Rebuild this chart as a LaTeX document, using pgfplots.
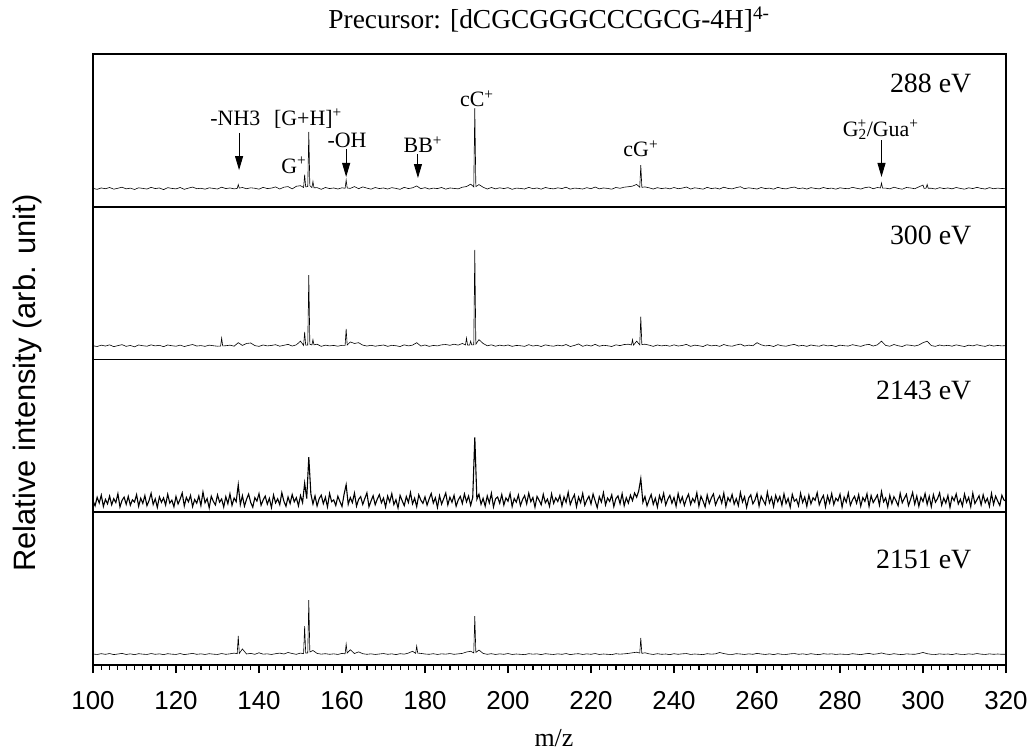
\documentclass[border=0pt]{standalone}
\usepackage{pgfplots}
\pgfplotsset{compat=1.18}
\usepackage{fontspec}
\setmainfont{Liberation Serif}
\newfontfamily\arial{Liberation Sans}
\usetikzlibrary{arrows.meta}
\newcommand{\fs}[1]{\fontsize{#1}{#1}\selectfont}
\begin{document}
\begin{tikzpicture}
\pgfplotsset{panel/.style={scale only axis, width=913bp, height=152.75bp,
  xmin=100, xmax=320, ymin=0, ymax=100, xtick=\empty, ytick=\empty,
  axis line style={line width=1.9bp}, anchor=south west},
  spec/.style={black, line width=0.6bp, mark=none}}
\tikzset{elab/.style={anchor=base east, font=\fs{28}},
  ann/.style={anchor=base, font=\fs{22}, inner sep=0pt},
  arr/.style={line width=0.9bp, -{Triangle[length=14bp,width=8bp]}}}
\path[use as bounding box] (-93bp,-91bp) rectangle (938bp,665bp);
% ---------------- panel 1 : 288 eV
\begin{axis}[panel, at={(0,458.25bp)}]
\addplot[spec] table[row sep=\\]{x y\\
100 12.0\\ 101 11.4\\ 102 12.3\\ 103 11.8\\ 104 12.6\\ 105 11.5\\ 106 12.1\\ 107 12.8\\ 108 11.7\\ 109 12.2\\
110 11.3\\ 111 12.4\\ 112 12.0\\ 113 11.6\\ 114 12.7\\ 115 11.9\\ 116 12.3\\ 117 11.2\\ 118 12.5\\ 119 12.0\\
120 11.7\\ 121 12.6\\ 122 11.4\\ 123 12.2\\ 124 12.9\\ 125 11.8\\ 126 12.1\\ 127 11.5\\ 128 12.4\\ 129 12.0\\
130 11.6\\ 131 12.8\\ 132 11.9\\ 133 12.3\\ 134 11.7\\ 134.75 12.0\\ 135 14.5\\ 135.25 12.2\\ 136 12.6\\ 137 11.8\\ 138 12.4\\ 139 12.1\\
140 11.5\\ 141 12.7\\ 142 11.9\\ 143 12.2\\ 144 13.0\\ 145 11.6\\ 146 12.8\\ 147 13.2\\ 148 11.7\\ 149 13.4\\
150 13.8\\ 150.75 12.6\\ 151 21.0\\ 151.25 13.0\\ 151.75 13.2\\ 152 49.0\\ 152.25 13.8\\ 152.75 12.6\\ 153 16.5\\ 153.25 12.4\\
154 12.5\\ 155 11.4\\ 156 12.6\\ 157 11.9\\ 158 12.3\\ 159 11.6\\
160 12.4\\ 160.75 12.1\\ 161 17.5\\ 161.25 12.3\\ 162 12.0\\ 163 13.2\\ 164 11.8\\ 165 13.0\\ 166 12.2\\ 167 11.5\\ 168 12.6\\ 169 11.9\\
170 12.3\\ 171 11.6\\ 172 12.5\\ 173 12.0\\ 174 11.4\\ 175 12.7\\ 176 11.9\\ 177 12.4\\ 178 13.6\\ 179 11.8\\
180 12.5\\ 181 11.6\\ 182 12.2\\ 183 11.9\\ 184 12.6\\ 185 11.5\\ 186 12.3\\ 187 12.0\\ 188 11.7\\ 189 12.8\\
190 13.2\\ 191 14.8\\ 191.75 13.0\\ 192 64.5\\ 192.25 13.2\\ 193 14.5\\ 194 12.8\\ 195 11.6\\ 196 12.6\\ 197 11.7\\ 198 12.4\\ 199 11.9\\
200 12.5\\ 201 11.4\\ 202 12.2\\ 203 12.0\\ 204 11.6\\ 205 12.7\\ 206 11.8\\ 207 12.3\\ 208 11.5\\ 209 12.6\\
210 12.0\\ 211 11.7\\ 212 12.4\\ 213 11.9\\ 214 12.8\\ 215 11.5\\ 216 12.2\\ 217 12.0\\ 218 11.6\\ 219 12.5\\
220 11.8\\ 221 12.9\\ 222 11.7\\ 223 12.3\\ 224 12.0\\ 225 11.5\\ 226 12.6\\ 227 12.1\\ 228 12.8\\ 229 13.1\\
230 13.5\\ 231 14.6\\ 231.75 12.8\\ 232 27.3\\ 232.25 12.7\\ 233 13.0\\ 234 12.4\\ 235 11.6\\ 236 12.5\\ 237 11.9\\ 238 12.3\\ 239 11.7\\
240 12.6\\ 241 11.8\\ 242 12.2\\ 243 12.9\\ 244 11.6\\ 245 12.4\\ 246 12.0\\ 247 11.5\\ 248 12.7\\ 249 11.9\\
250 12.3\\ 251 11.6\\ 252 12.8\\ 253 12.0\\ 254 11.7\\ 255 12.5\\ 256 13.1\\ 257 11.8\\ 258 12.4\\ 259 12.0\\
260 11.6\\ 261 12.6\\ 262 11.9\\ 263 12.2\\ 264 11.5\\ 265 12.7\\ 266 12.0\\ 267 11.7\\ 268 12.4\\ 269 12.9\\
270 11.8\\ 271 12.3\\ 272 11.6\\ 273 12.5\\ 274 12.0\\ 275 11.7\\ 276 12.6\\ 277 11.9\\ 278 12.2\\ 279 11.5\\
280 12.4\\ 281 12.0\\ 282 11.8\\ 283 12.7\\ 284 12.1\\ 285 11.6\\ 286 12.5\\ 287 12.9\\ 288 11.8\\ 289 12.6\\
289.75 12.3\\ 290 15.5\\ 290.25 12.2\\ 291 12.2\\ 292 11.7\\ 293 12.8\\ 294 12.0\\ 295 11.5\\ 296 12.6\\ 297 12.3\\ 298 11.8\\ 299 13.0\\
300 14.2\\ 300.25 12.0\\ 300.75 12.2\\ 301 14.6\\ 301.25 12.1\\ 302 12.1\\ 303 11.6\\ 304 12.5\\ 305 11.9\\ 306 12.3\\ 307 11.7\\ 308 12.6\\ 309 12.0\\
310 11.5\\ 311 12.4\\ 312 11.9\\ 313 12.7\\ 314 12.0\\ 315 11.6\\ 316 12.5\\ 317 11.8\\ 318 12.2\\ 319 11.9\\ 320 12.1\\
};
\node[elab] at (axis cs:312.5,74.5) {288 eV};
\node[ann] at (axis cs:134.3,53.5) {-NH3};
\draw[arr] (axis cs:135.2,48.3) -- (axis cs:135.2,24);
\node[ann] at (axis cs:151.8,53.5) {[G+H]\textsuperscript{+}};
\node[ann] at (axis cs:148.4,22) {G\textsuperscript{+}};
\node[ann] at (axis cs:161.2,39.1) {-OH};
\draw[arr] (axis cs:161.0,37.5) -- (axis cs:161.0,19.5);
\node[ann] at (axis cs:179.5,35.2) {BB\textsuperscript{+}};
\draw[arr] (axis cs:178.3,34.5) -- (axis cs:178.3,18.8);
\node[ann] at (axis cs:192.5,65.3) {cC\textsuperscript{+}};
\node[ann] at (axis cs:232.0,32.6) {cG\textsuperscript{+}};
\node[ann] at (axis cs:289.8,46.3) {G\textsubscript{2}\hspace{-0.42em}\textsuperscript{+}/Gua\textsuperscript{+}};
\draw[arr] (axis cs:290,43.5) -- (axis cs:290,19.5);
\end{axis}
% ---------------- panel 2 : 300 eV
\begin{axis}[panel, at={(0,305.5bp)}]
\addplot[spec] table[row sep=\\]{x y\\
100 9.0\\ 101 8.5\\ 102 9.4\\ 103 8.8\\ 104 9.6\\ 105 8.4\\ 106 9.1\\ 107 9.7\\ 108 8.6\\ 109 9.2\\
110 8.3\\ 111 9.5\\ 112 9.0\\ 113 8.7\\ 114 9.6\\ 115 8.9\\ 116 9.3\\ 117 8.4\\ 118 9.5\\ 119 9.0\\
120 8.7\\ 121 9.4\\ 122 8.5\\ 123 9.2\\ 124 9.8\\ 125 8.8\\ 126 9.1\\ 127 8.6\\ 128 9.4\\ 129 9.0\\
130 8.7\\ 130.75 8.8\\ 131 14.0\\ 131.25 8.9\\ 132 9.0\\ 133 9.4\\ 134 8.7\\ 135 11.0\\ 136 9.2\\ 137 10.5\\ 138 10.8\\ 139 9.1\\
140 8.6\\ 141 9.5\\ 142 8.9\\ 143 9.2\\ 144 9.7\\ 145 8.7\\ 146 9.3\\ 147 9.9\\ 148 8.8\\ 149 9.6\\
150 12.0\\ 150.75 9.2\\ 151 18.0\\ 151.25 9.4\\ 151.75 9.5\\ 152 55.3\\ 152.25 10.0\\ 152.75 9.5\\ 153 13.0\\ 153.25 9.6\\
154 10.0\\ 155 8.6\\ 156 9.4\\ 157 8.9\\ 158 9.2\\ 159 8.7\\
160 9.3\\ 160.75 9.2\\ 161 20.0\\ 161.25 9.5\\ 162 11.5\\ 163 10.5\\ 164 11.0\\ 165 9.4\\ 166 8.8\\ 167 9.3\\ 168 8.7\\ 169 9.1\\
170 9.5\\ 171 8.6\\ 172 9.3\\ 173 9.0\\ 174 8.5\\ 175 9.6\\ 176 8.9\\ 177 9.4\\ 178 11.0\\ 179 8.8\\
180 9.5\\ 181 8.6\\ 182 9.2\\ 183 8.9\\ 184 9.6\\ 185 9.8\\ 186 9.3\\ 187 10.0\\ 188 9.4\\ 189 10.5\\
189.75 9.5\\ 190 14.0\\ 190.25 9.5\\ 190.75 9.4\\ 191 12.0\\ 191.25 9.6\\ 191.75 9.6\\ 192 71.7\\ 192.25 10.0\\ 193 13.0\\
194 10.5\\ 195 9.0\\ 196 9.6\\ 197 8.7\\ 198 9.4\\ 199 8.9\\
200 9.5\\ 201 8.6\\ 202 9.2\\ 203 9.0\\ 204 8.6\\ 205 9.7\\ 206 8.8\\ 207 9.3\\ 208 8.5\\ 209 9.6\\
210 9.0\\ 211 8.7\\ 212 9.4\\ 213 8.9\\ 214 9.8\\ 215 8.5\\ 216 9.2\\ 217 10.2\\ 218 8.6\\ 219 9.5\\
220 8.8\\ 221 9.9\\ 222 8.7\\ 223 9.3\\ 224 9.0\\ 225 8.5\\ 226 9.6\\ 227 9.1\\ 228 9.8\\ 229 10.0\\
229.75 9.5\\ 230 13.0\\ 230.25 9.4\\ 231 12.0\\ 231.75 9.6\\ 232 28.0\\ 232.25 9.8\\ 233 10.0\\ 234 9.4\\ 235 8.6\\ 236 9.5\\ 237 8.9\\ 238 9.3\\ 239 8.7\\
240 9.6\\ 241 8.8\\ 242 9.2\\ 243 9.9\\ 244 8.6\\ 245 9.4\\ 246 9.0\\ 247 8.5\\ 248 9.7\\ 249 8.9\\
250 9.3\\ 251 8.6\\ 252 9.8\\ 253 9.0\\ 254 8.7\\ 255 9.5\\ 256 10.1\\ 257 8.8\\ 258 9.4\\ 259 9.0\\
260 11.0\\ 261 9.6\\ 262 8.9\\ 263 9.2\\ 264 8.5\\ 265 9.7\\ 266 9.0\\ 267 8.7\\ 268 9.4\\ 269 9.9\\
270 8.8\\ 271 9.3\\ 272 8.6\\ 273 9.5\\ 274 9.0\\ 275 8.7\\ 276 9.6\\ 277 8.9\\ 278 9.2\\ 279 8.5\\
280 9.4\\ 281 9.0\\ 282 8.8\\ 283 9.7\\ 284 9.1\\ 285 8.6\\ 286 9.5\\ 287 9.9\\ 288 8.8\\ 289 9.6\\
290 12.0\\ 291 9.2\\ 292 8.7\\ 293 9.8\\ 294 9.0\\ 295 8.5\\ 296 9.6\\ 297 9.3\\ 298 8.8\\ 299 9.5\\
300 11.0\\ 301 12.0\\ 302 9.1\\ 303 8.6\\ 304 9.5\\ 305 8.9\\ 306 9.3\\ 307 8.7\\ 308 9.6\\ 309 9.0\\
310 8.5\\ 311 9.4\\ 312 8.9\\ 313 9.7\\ 314 9.0\\ 315 8.6\\ 316 9.5\\ 317 8.8\\ 318 9.2\\ 319 8.9\\ 320 9.1\\
};
\node[elab] at (axis cs:312.5,75) {300 eV};
\end{axis}
% ---------------- panel 3 : 2143 eV
\begin{axis}[panel, at={(0,152.75bp)}]
\addplot[spec, line width=1.1bp] table[row sep=\\]{x y\\
100 7.5\\ 100.5 4.2\\ 101 9.8\\ 101.5 6.1\\ 102 11.2\\ 102.5 3.8\\ 103 8.4\\ 103.5 5.5\\ 104 10.6\\ 104.5 4.9\\
105 8.9\\ 105.5 6.3\\ 106 12.1\\ 106.5 3.5\\ 107 7.8\\ 107.5 9.9\\ 108 5.2\\ 108.5 10.4\\ 109 4.6\\ 109.5 8.1\\
110 6.7\\ 110.5 11.5\\ 111 3.9\\ 111.5 9.2\\ 112 5.8\\ 112.5 10.9\\ 113 4.3\\ 113.5 7.6\\ 114 12.4\\ 114.5 5.1\\
115 8.8\\ 115.5 3.2\\ 116 10.1\\ 116.5 6.5\\ 117 9.4\\ 117.5 4.7\\ 118 11.8\\ 118.5 6.0\\ 119 7.9\\ 119.5 3.6\\
120 10.3\\ 120.5 5.4\\ 121 8.6\\ 121.5 12.6\\ 122 4.1\\ 122.5 9.7\\ 123 6.8\\ 123.5 11.0\\ 124 3.7\\ 124.5 8.3\\
125 5.9\\ 125.5 10.7\\ 126 4.4\\ 126.5 13.2\\ 127 6.2\\ 127.5 9.0\\ 128 2.9\\ 128.5 10.5\\ 129 7.1\\ 129.5 4.8\\
130 11.4\\ 130.5 6.6\\ 131 8.7\\ 131.5 3.4\\ 132 10.2\\ 132.5 5.6\\ 133 12.0\\ 133.5 4.5\\ 134 9.3\\ 134.5 6.9\\
135 18.0\\ 135.5 5.0\\ 136 10.8\\ 136.5 4.0\\ 137 8.5\\ 137.5 11.9\\ 138 6.4\\ 138.5 3.3\\ 139 9.6\\ 139.5 7.3\\
140 12.2\\ 140.5 4.6\\ 141 8.0\\ 141.5 10.6\\ 142 5.3\\ 142.5 9.1\\ 143 3.1\\ 143.5 11.3\\ 144 6.1\\ 144.5 8.8\\
145 4.9\\ 145.5 12.8\\ 146 7.2\\ 146.5 3.9\\ 147 10.0\\ 147.5 5.7\\ 148 11.6\\ 148.5 6.8\\ 149 9.5\\ 149.5 4.2\\
150 10.9\\ 150.5 6.3\\ 151 19.0\\ 151.5 9.0\\ 152 36.0\\ 152.5 12.0\\ 153 5.4\\ 153.5 10.7\\ 154 4.1\\ 154.5 8.9\\
155 11.2\\ 155.5 5.6\\ 156 9.8\\ 156.5 3.5\\ 157 12.3\\ 157.5 6.9\\ 158 8.1\\ 158.5 4.4\\ 159 10.5\\ 159.5 7.0\\
160 3.8\\ 160.5 11.7\\ 161 18.0\\ 161.5 5.2\\ 162 9.6\\ 162.5 6.3\\ 163 12.5\\ 163.5 4.0\\ 164 8.4\\ 164.5 10.2\\
165 5.1\\ 165.5 9.0\\ 166 12.7\\ 166.5 3.6\\ 167 7.4\\ 167.5 10.8\\ 168 4.9\\ 168.5 8.6\\ 169 11.5\\ 169.5 6.2\\
170 9.3\\ 170.5 3.4\\ 171 10.6\\ 171.5 6.7\\ 172 12.1\\ 172.5 5.0\\ 173 8.2\\ 173.5 2.8\\ 174 11.0\\ 174.5 7.5\\
175 4.3\\ 175.5 10.3\\ 176 6.4\\ 176.5 12.9\\ 177 5.5\\ 177.5 9.2\\ 178 3.7\\ 178.5 11.4\\ 179 7.9\\ 179.5 5.8\\
180 10.1\\ 180.5 4.6\\ 181 8.7\\ 181.5 12.3\\ 182 6.0\\ 182.5 9.5\\ 183 3.2\\ 183.5 10.8\\ 184 5.3\\ 184.5 8.9\\
185 12.6\\ 185.5 4.8\\ 186 9.9\\ 186.5 6.5\\ 187 11.1\\ 187.5 3.9\\ 188 8.0\\ 188.5 10.4\\ 189 5.7\\ 189.5 12.0\\
190 6.8\\ 190.5 10.6\\ 191 4.5\\ 191.5 9.7\\ 192 49.0\\ 192.5 8.5\\ 193 11.8\\ 193.5 5.2\\ 194 9.1\\ 194.5 4.0\\
195 10.7\\ 195.5 6.1\\ 196 12.4\\ 196.5 3.5\\ 197 8.8\\ 197.5 10.0\\ 198 5.9\\ 198.5 11.6\\ 199 4.7\\ 199.5 9.4\\
200 7.2\\ 200.5 12.2\\ 201 3.8\\ 201.5 9.0\\ 202 6.6\\ 202.5 11.3\\ 203 4.4\\ 203.5 8.3\\ 204 10.9\\ 204.5 5.5\\
205 12.5\\ 205.5 6.9\\ 206 9.6\\ 206.5 3.3\\ 207 10.4\\ 207.5 7.8\\ 208 4.9\\ 208.5 11.7\\ 209 6.2\\ 209.5 8.6\\
210 3.9\\ 210.5 12.0\\ 211 5.8\\ 211.5 9.4\\ 212 7.0\\ 212.5 11.0\\ 213 4.1\\ 213.5 10.1\\ 214 6.5\\ 214.5 13.0\\
215 5.0\\ 215.5 8.7\\ 216 11.5\\ 216.5 3.6\\ 217 9.9\\ 217.5 6.3\\ 218 12.3\\ 218.5 4.6\\ 219 8.0\\ 219.5 10.5\\
220 5.4\\ 220.5 11.9\\ 221 7.4\\ 221.5 3.0\\ 222 10.2\\ 222.5 6.7\\ 223 12.8\\ 223.5 4.8\\ 224 9.3\\ 224.5 7.1\\
225 11.4\\ 225.5 3.7\\ 226 8.9\\ 226.5 10.7\\ 227 5.6\\ 227.5 12.1\\ 228 4.3\\ 228.5 9.5\\ 229 6.0\\ 229.5 11.2\\
230 7.6\\ 230.5 12.6\\ 231 9.8\\ 231.5 14.0\\ 232 22.0\\ 232.5 6.5\\ 233 10.3\\ 233.5 4.2\\ 234 8.1\\ 234.5 11.6\\
235 5.2\\ 235.5 9.2\\ 236 3.4\\ 236.5 10.9\\ 237 6.8\\ 237.5 12.4\\ 238 4.7\\ 238.5 8.5\\ 239 11.1\\ 239.5 5.9\\
240 9.7\\ 240.5 3.9\\ 241 12.2\\ 241.5 6.3\\ 242 10.0\\ 242.5 4.5\\ 243 8.8\\ 243.5 11.8\\ 244 5.1\\ 244.5 9.0\\
245 6.6\\ 245.5 12.7\\ 246 4.0\\ 246.5 10.5\\ 247 7.3\\ 247.5 3.5\\ 248 11.3\\ 248.5 5.7\\ 249 9.4\\ 249.5 12.0\\
250 4.8\\ 250.5 8.2\\ 251 10.8\\ 251.5 6.0\\ 252 12.5\\ 252.5 3.8\\ 253 9.6\\ 253.5 7.0\\ 254 11.6\\ 254.5 5.3\\
255 8.9\\ 255.5 4.4\\ 256 12.9\\ 256.5 6.7\\ 257 10.1\\ 257.5 3.2\\ 258 9.3\\ 258.5 11.4\\ 259 5.5\\ 259.5 8.0\\
260 12.3\\ 260.5 4.1\\ 261 10.6\\ 261.5 7.7\\ 262 5.0\\ 262.5 13.1\\ 263 6.2\\ 263.5 9.8\\ 264 3.7\\ 264.5 11.0\\
265 6.9\\ 265.5 10.3\\ 266 4.6\\ 266.5 12.0\\ 267 5.8\\ 267.5 9.1\\ 268 3.3\\ 268.5 11.7\\ 269 7.2\\ 269.5 8.6\\
270 4.2\\ 270.5 12.4\\ 271 6.4\\ 271.5 10.0\\ 272 3.9\\ 272.5 11.2\\ 273 5.5\\ 273.5 9.5\\ 274 7.8\\ 274.5 12.8\\
275 4.9\\ 275.5 8.4\\ 276 11.0\\ 276.5 3.6\\ 277 10.7\\ 277.5 6.1\\ 278 12.2\\ 278.5 5.0\\ 279 9.2\\ 279.5 7.4\\
280 11.8\\ 280.5 3.4\\ 281 9.9\\ 281.5 6.6\\ 282 12.6\\ 282.5 4.5\\ 283 8.1\\ 283.5 10.4\\ 284 5.9\\ 284.5 11.5\\
285 4.0\\ 285.5 9.6\\ 286 7.1\\ 286.5 12.1\\ 287 3.8\\ 287.5 10.9\\ 288 6.3\\ 288.5 8.7\\ 289 11.3\\ 289.5 4.7\\
290 13.5\\ 290.5 6.8\\ 291 9.4\\ 291.5 3.5\\ 292 11.1\\ 292.5 5.6\\ 293 10.2\\ 293.5 7.5\\ 294 4.3\\ 294.5 12.4\\
295 6.2\\ 295.5 9.0\\ 296 11.7\\ 296.5 4.4\\ 297 8.3\\ 297.5 12.9\\ 298 5.3\\ 298.5 10.6\\ 299 3.9\\ 299.5 9.8\\
300 7.0\\ 300.5 12.2\\ 301 5.1\\ 301.5 10.4\\ 302 3.7\\ 302.5 11.5\\ 303 6.6\\ 303.5 8.9\\ 304 12.7\\ 304.5 4.6\\
305 9.3\\ 305.5 6.0\\ 306 11.0\\ 306.5 3.2\\ 307 10.1\\ 307.5 7.6\\ 308 12.0\\ 308.5 5.4\\ 309 8.5\\ 309.5 4.1\\
310 11.9\\ 310.5 6.5\\ 311 9.7\\ 311.5 3.6\\ 312 12.5\\ 312.5 5.7\\ 313 8.2\\ 313.5 10.8\\ 314 4.8\\ 314.5 11.4\\
315 6.3\\ 315.5 9.1\\ 316 3.9\\ 316.5 12.3\\ 317 5.2\\ 317.5 10.5\\ 318 7.3\\ 318.5 4.4\\ 319 11.1\\ 319.5 8.0\\
320 7.2\\
};
\node[elab] at (axis cs:312.5,73.5) {2143 eV};
\end{axis}
% ---------------- panel 4 : 2151 eV
\begin{axis}[panel, at={(0,0)},
  xtick={100,120,...,320}, minor x tick num=9, tick align=outside, xtick pos=left,
  major tick length=8bp, minor tick length=4.5bp,
  every tick/.style={black, line width=1.2bp},
  /pgf/number format/assume math mode=true,
  xticklabel style={font=\arial\fs{26}, yshift=-15bp}]
\addplot[spec] table[row sep=\\]{x y\\
100 7.2\\ 101 6.9\\ 102 7.4\\ 103 7.0\\ 104 7.5\\ 105 6.8\\ 106 7.2\\ 107 7.6\\ 108 6.9\\ 109 7.3\\
110 6.8\\ 111 7.4\\ 112 7.1\\ 113 6.9\\ 114 7.5\\ 115 7.0\\ 116 7.3\\ 117 6.8\\ 118 7.4\\ 119 7.1\\
120 6.9\\ 121 7.5\\ 122 6.8\\ 123 7.2\\ 124 7.6\\ 125 7.0\\ 126 7.3\\ 127 6.9\\ 128 7.4\\ 129 7.1\\
130 6.9\\ 131 7.5\\ 132 7.0\\ 133 7.3\\ 134 7.8\\ 134.75 7.4\\ 135 19.0\\ 135.25 7.6\\ 136 10.5\\ 137 7.2\\ 138 7.6\\ 139 7.0\\
140 8.0\\ 141 7.1\\ 142 7.3\\ 143 6.9\\ 144 7.4\\ 145 7.8\\ 146 7.2\\ 147 8.2\\ 148 7.5\\ 149 7.0\\
150 7.8\\ 150.75 7.4\\ 151 25.5\\ 151.25 7.8\\ 151.75 7.9\\ 152 42.5\\ 152.25 8.5\\ 153 9.5\\ 154 7.6\\ 155 7.1\\ 156 7.4\\ 157 7.0\\ 158 7.3\\ 159 6.9\\
160 7.6\\ 160.75 7.3\\ 161 13.7\\ 161.25 7.8\\ 162 10.0\\ 163 7.5\\ 164 8.6\\ 165 7.4\\ 166 7.0\\ 167 7.3\\ 168 6.9\\ 169 7.2\\
170 7.5\\ 171 7.0\\ 172 7.3\\ 173 6.8\\ 174 7.4\\ 175 7.1\\ 176 7.8\\ 177 9.0\\ 177.75 7.6\\ 178 12.4\\ 178.25 7.8\\ 179 7.6\\
180 7.2\\ 181 7.0\\ 182 7.4\\ 183 6.9\\ 184 7.3\\ 185 7.1\\ 186 7.5\\ 187 7.0\\ 188 7.3\\ 189 7.6\\
190 8.5\\ 191 9.0\\ 191.75 7.9\\ 192 32.0\\ 192.25 8.2\\ 193 9.8\\ 194 7.6\\ 195 7.0\\ 196 7.4\\ 197 6.9\\ 198 7.3\\ 199 7.0\\
200 7.5\\ 201 6.9\\ 202 7.2\\ 203 7.0\\ 204 6.8\\ 205 7.4\\ 206 7.1\\ 207 7.3\\ 208 6.8\\ 209 7.4\\
210 7.1\\ 211 6.9\\ 212 7.3\\ 213 7.0\\ 214 7.5\\ 215 6.8\\ 216 7.2\\ 217 7.4\\ 218 6.9\\ 219 7.3\\
220 7.0\\ 221 7.5\\ 222 6.9\\ 223 7.2\\ 224 7.0\\ 225 6.8\\ 226 7.4\\ 227 7.1\\ 228 7.3\\ 229 7.6\\
230 8.0\\ 231 8.4\\ 231.75 7.8\\ 232 17.7\\ 232.25 7.6\\ 233 8.0\\ 234 7.3\\ 235 6.9\\ 236 7.4\\ 237 7.0\\ 238 7.2\\ 239 6.8\\
240 7.4\\ 241 7.0\\ 242 7.3\\ 243 7.5\\ 244 6.9\\ 245 7.2\\ 246 7.0\\ 247 6.8\\ 248 7.4\\ 249 7.1\\
250 7.3\\ 251 8.2\\ 252 7.5\\ 253 7.0\\ 254 6.9\\ 255 7.4\\ 256 7.2\\ 257 6.9\\ 258 7.3\\ 259 7.0\\
260 7.6\\ 261 7.2\\ 262 6.9\\ 263 7.3\\ 264 6.8\\ 265 7.4\\ 266 7.0\\ 267 6.9\\ 268 7.3\\ 269 7.5\\
270 7.0\\ 271 7.3\\ 272 6.9\\ 273 7.4\\ 274 7.0\\ 275 6.8\\ 276 7.4\\ 277 7.1\\ 278 7.3\\ 279 6.9\\
280 7.2\\ 281 7.0\\ 282 6.9\\ 283 7.4\\ 284 7.1\\ 285 6.8\\ 286 7.3\\ 287 7.6\\ 288 7.0\\ 289 7.3\\
290 7.9\\ 291 7.2\\ 292 6.9\\ 293 7.4\\ 294 7.0\\ 295 6.8\\ 296 7.3\\ 297 7.1\\ 298 7.0\\ 299 7.5\\
300 8.2\\ 301 7.4\\ 302 7.0\\ 303 6.9\\ 304 7.3\\ 305 7.0\\ 306 7.2\\ 307 6.8\\ 308 7.4\\ 309 7.0\\
310 6.9\\ 311 7.3\\ 312 7.0\\ 313 7.5\\ 314 7.1\\ 315 6.9\\ 316 7.3\\ 317 7.0\\ 318 7.2\\ 319 7.0\\ 320 7.1\\
};
\node[elab] at (axis cs:312.5,63.5) {2151 eV};
\end{axis}
% ---------------- titles and labels
\node[font=\fs{27.5}] at (456bp,645bp) {Precursor: [dCGCGGGCCCGCG-4H]\textsuperscript{4-}};
\node[font=\fs{26}] at (461bp,-73bp) {m/z};
\node[font=\arial\fs{31}, rotate=90] at (-65bp,282bp) {Relative intensity (arb. unit)};
\end{tikzpicture}
\end{document}
